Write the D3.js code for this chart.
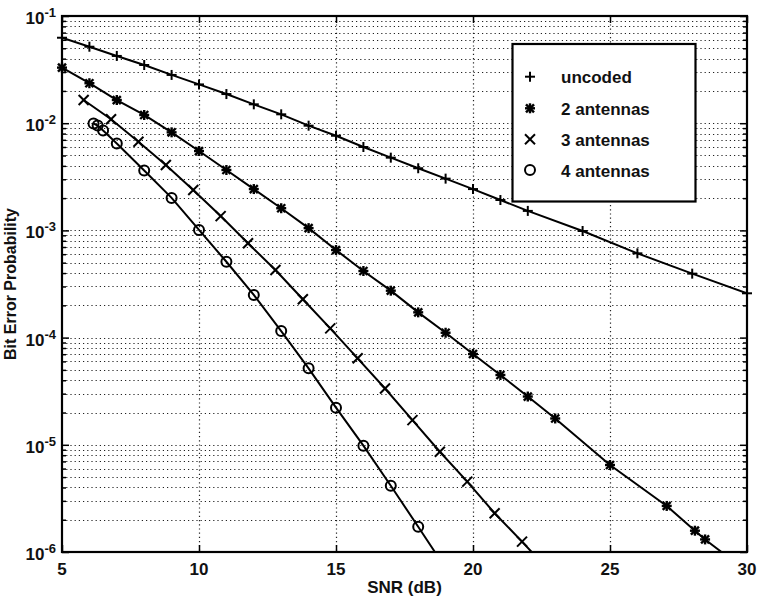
<!DOCTYPE html>
<html>
<head>
<meta charset="utf-8">
<script src="https://cdn.jsdelivr.net/npm/d3@7"></script>
<style>
  html, body { margin: 0; padding: 0; background: #fff; }
  svg { display: block; font-family: "Liberation Sans", Arial, Helvetica, sans-serif; }
</style>
</head>
<body>
<svg id="chart" width="762" height="601"></svg>
<script>
// ---------------- data ----------------
const xTicks = [5, 10, 15, 20, 25, 30];
const yDecades = [-6, -5, -4, -3, -2, -1];

const snrUncoded = [5,6,7,8,9,10,11,12,13,14,15,16,17,18,19,20,21,22,24,26,28,30];
const berUncoded = [0.0627,0.0517,0.0424,0.0349,0.0282,0.0230,0.0187,0.0150,0.0121,0.00948,
                    0.00764,0.0060,0.00477,0.00380,0.00304,0.00243,0.00192,0.00152,0.000987,
                    0.000611,0.000395,0.000259];

const snr2 = [5,6,7,8,9,10,11,12,13,14,15,16,17,18,19,20,21,22,23,25,27.07,28.1,28.47];
const ber2 = [0.0330,0.0236,0.01645,0.01193,0.00822,0.00550,0.00366,0.00243,0.00161,0.00105,
              0.000656,0.000418,0.000274,0.000172,0.000111,7.03e-5,4.48e-5,2.82e-5,1.76e-5,
              6.48e-6,2.69e-6,1.58e-6,1.31e-6];
const tail2 = [29.07, 1.0e-6];

const snr3 = [5.79,6.79,7.79,8.79,9.79,10.79,11.79,12.79,13.79,14.79,15.79,16.79,17.79,18.79,19.79,20.79,21.79];
const ber3 = [0.01645,0.01088,0.00672,0.00407,0.00238,0.00136,0.000758,0.000427,0.000228,
              0.000122,6.41e-5,3.35e-5,1.70e-5,8.62e-6,4.53e-6,2.30e-6,1.25e-6];
const tail3 = [22.14, 1.0e-6];

const snr4 = [6.15,6.3,6.5,7,8,9,10,11,12,13,14,15,16,17,18];
const ber4 = [0.00994,0.00952,0.00855,0.00646,0.00362,0.00201,0.00101,0.000510,0.000250,
              0.000115,5.17e-5,2.22e-5,9.81e-6,4.15e-6,1.72e-6];
const tail4 = [18.61, 1.0e-6];

const legendLabels = ["uncoded", "2 antennas", "3 antennas", "4 antennas"];
const markerTypes = ["plus", "star", "cross", "circle"];
const xTitle = "SNR (dB)";
const yTitle = "Bit Error Probability";

// ---------------- layout ----------------
const svg = d3.select("#chart");
const L = 62, T = 16, W = 685, H = 536;
const x = d3.scaleLinear().domain([5, 30]).range([L, L + W]);
const y = d3.scaleLog().domain([1e-6, 1e-1]).range([T + H, T]);

svg.append("defs").append("clipPath").attr("id", "clip")
  .append("rect").attr("x", L).attr("y", T).attr("width", W).attr("height", H);

// grid
const grid = svg.append("g").attr("stroke", "#222").attr("stroke-width", 1.2)
  .attr("stroke-dasharray", "1.2,3");
const yGridVals = [];
yDecades.forEach(d => { for (let m = 1; m <= 9; m++) { const v = m * Math.pow(10, d); if (v <= 0.1 + 1e-12) yGridVals.push(v); } });
grid.selectAll("line.h").data(yGridVals.filter(v => v > 1e-6 && v < 0.1)).enter().append("line")
  .attr("x1", L).attr("x2", L + W)
  .attr("y1", d => Math.round(y(d)) + 0.5).attr("y2", d => Math.round(y(d)) + 0.5);
grid.selectAll("line.v").data(xTicks.filter(v => v > 5 && v < 30)).enter().append("line")
  .attr("y1", T).attr("y2", T + H)
  .attr("x1", d => Math.round(x(d)) + 0.5).attr("x2", d => Math.round(x(d)) + 0.5);

// axes ticks (inward) using d3 axes
const yMinor = yGridVals.filter(v => v >= 1e-6 && v <= 0.1);
const isDecade = v => Math.abs(Math.log10(v) - Math.round(Math.log10(v))) < 1e-9;
function styleAxis(g) { g.select(".domain").remove(); g.selectAll("text").remove(); g.selectAll("line").attr("stroke", "#000").attr("stroke-width", 1.5); }

svg.append("g").attr("transform", `translate(${L},0)`)
  .call(d3.axisLeft(y).tickValues(yMinor).tickSize(-4)).call(styleAxis)
  .selectAll(".tick line").attr("x2", d => isDecade(d) ? 7 : 4);
svg.append("g").attr("transform", `translate(${L + W},0)`)
  .call(d3.axisRight(y).tickValues(yMinor).tickSize(-4)).call(styleAxis)
  .selectAll(".tick line").attr("x2", d => isDecade(d) ? -7 : -4);
svg.append("g").attr("transform", `translate(0,${T + H})`)
  .call(d3.axisBottom(x).tickValues(xTicks).tickSize(-7)).call(styleAxis);
svg.append("g").attr("transform", `translate(0,${T})`)
  .call(d3.axisTop(x).tickValues(xTicks).tickSize(-7)).call(styleAxis);

// frame
svg.append("rect").attr("x", L).attr("y", T).attr("width", W).attr("height", H)
  .attr("fill", "none").attr("stroke", "#000").attr("stroke-width", 2.2);

// tick labels
svg.append("g").selectAll("text").data(xTicks).enter().append("text")
  .attr("x", d => x(d)).attr("y", T + H + 23).attr("text-anchor", "middle")
  .attr("font-size", 17).attr("font-weight", "bold").attr("fill", "#111").text(d => d);
const yl = svg.append("g").selectAll("text").data(yDecades).enter().append("text")
  .attr("x", 56).attr("y", d => y(Math.pow(10, d)) + 8).attr("text-anchor", "end")
  .attr("font-size", 17).attr("font-weight", "bold").attr("fill", "#111");
yl.append("tspan").text("10");
yl.append("tspan").attr("dy", -7).attr("font-size", 13).text(d => "-" + Math.abs(d));

// titles
svg.append("text").attr("x", x(17.5)).attr("y", 593).attr("text-anchor", "middle")
  .attr("font-size", 17).attr("font-weight", "bold").attr("fill", "#111").text(xTitle);
svg.append("text").attr("transform", `translate(16,${T + H / 2}) rotate(-90)`)
  .attr("text-anchor", "middle").attr("font-size", 16).attr("font-weight", "bold")
  .attr("fill", "#111").text(yTitle);

// series
const series = [
  { s: snrUncoded, b: berUncoded, tail: null },
  { s: snr2, b: ber2, tail: tail2 },
  { s: snr3, b: ber3, tail: tail3 },
  { s: snr4, b: ber4, tail: tail4 }
];
const line = d3.line().x(d => x(d[0])).y(d => y(d[1]));
const plot = svg.append("g").attr("clip-path", "url(#clip)");

function drawMarker(g, type, cx, cy) {
  const sz = 5;
  if (type === "plus" || type === "star") {
    g.append("line").attr("x1", cx - sz).attr("x2", cx + sz).attr("y1", cy).attr("y2", cy);
    g.append("line").attr("x1", cx).attr("x2", cx).attr("y1", cy - sz).attr("y2", cy + sz);
  }
  if (type === "cross" || type === "star") {
    const s2 = type === "star" ? 4 : 5;
    g.append("line").attr("x1", cx - s2).attr("x2", cx + s2).attr("y1", cy - s2).attr("y2", cy + s2);
    g.append("line").attr("x1", cx - s2).attr("x2", cx + s2).attr("y1", cy + s2).attr("y2", cy - s2);
  }
  if (type === "circle") {
    g.append("circle").attr("cx", cx).attr("cy", cy).attr("r", 5).attr("fill", "none");
  }
}

series.forEach((ser, i) => {
  const pts = ser.s.map((v, k) => [v, ser.b[k]]);
  const lpts = ser.tail ? pts.concat([ser.tail]) : pts;
  plot.append("path").datum(lpts).attr("d", line)
    .attr("fill", "none").attr("stroke", "#000").attr("stroke-width", 2);
  const mg = svg.append("g").attr("stroke", "#000").attr("stroke-width", markerTypes[i] === "star" ? 2.4 : 2);
  pts.forEach(p => drawMarker(mg, markerTypes[i], x(p[0]), y(p[1])));
});

// legend
const lg = svg.append("g");
lg.append("rect").attr("x", 512.5).attr("y", 44).attr("width", 183).attr("height", 157.5)
  .attr("fill", "#fff").attr("stroke", "#000").attr("stroke-width", 2.2);
const rowY = [76.7, 108.3, 139.3, 170];
legendLabels.forEach((lab, i) => {
  const mg = lg.append("g").attr("stroke", "#000").attr("stroke-width", markerTypes[i] === "star" ? 2.4 : 2);
  drawMarker(mg, markerTypes[i], 530, rowY[i]);
  lg.append("text").attr("x", 561).attr("y", rowY[i] + 6.5).attr("font-size", 17)
    .attr("font-weight", "bold").attr("fill", "#111").text(lab);
});
</script>
</body>
</html>
